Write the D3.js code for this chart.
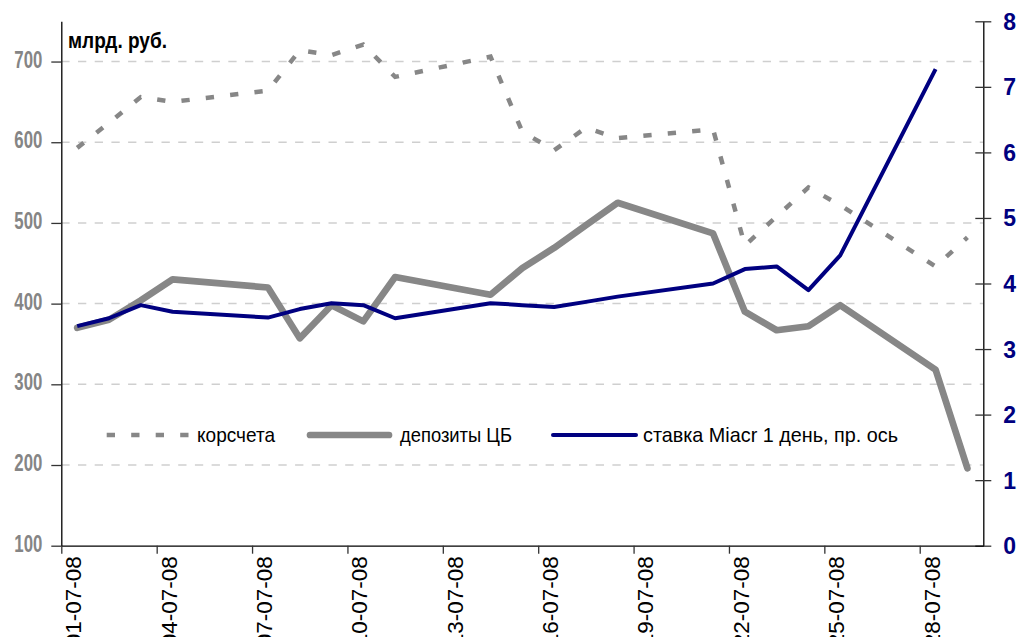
<!DOCTYPE html>
<html lang="ru">
<head>
  <meta charset="UTF-8">
  <title>Корсчета, депозиты ЦБ, Miacr</title>
  <script src="https://cdn.jsdelivr.net/npm/d3@7"></script>
  <style>
    body { margin: 0; background: #fff; }
    text { font-family: "Liberation Sans", Arial, sans-serif; }
  </style>
</head>
<body>
  <div id="chart"></div>
  <script>
    // business days of July 2008
    const dates = ["01-07-08","02-07-08","03-07-08","04-07-08","07-07-08","08-07-08","09-07-08",
                   "10-07-08","11-07-08","14-07-08","15-07-08","16-07-08","17-07-08","18-07-08",
                   "21-07-08","22-07-08","23-07-08","24-07-08","25-07-08","28-07-08","29-07-08"];
    // млрд. руб.
    const korscheta = [593, 624, 656, 650, 664, 714, 708, 721, 681, 706, 613, 590, 618, 605,
                       616, 472, 508, 544, 522, 446, 482];
    const depozity  = [370, 380, 404, 430, 420, 357, 398, 378, 433, 411, 444, 469, 497, 525,
                       487, 390, 367, 372, 398, 318, 196];
    // %, right axis
    const miacr     = [3.35, 3.47, 3.67, 3.57, 3.48, 3.61, 3.70, 3.67, 3.47, 3.70, 3.67, 3.64, 3.72, 3.80,
                       4.00, 4.22, 4.26, 3.90, 4.43, 7.27, null];
    const leftTicks  = [100, 200, 300, 400, 500, 600, 700];
    const rightTicks = [0, 1, 2, 3, 4, 5, 6, 7, 8];
    const legendNames = ["корсчета", "депозиты ЦБ", "ставка Miacr 1 день, пр. ось"];

    const w = 1017, h = 637;
    const left = 61.3, right = 983.3, bottom = 545.7;
    const grey = "#878787", navy = "#000080";

    const parse = d3.timeParse("%d-%m-%y");
    const fmt = d3.timeFormat("%d-%m-%y");
    const days = dates.map(parse);
    const mid = d => d3.timeHour.offset(d, 12);

    const x = d3.scaleTime()
      .domain([new Date(2008, 6, 1), new Date(2008, 6, 30)])
      .range([left, right]);
    const yL = d3.scaleLinear().domain([100, 750]).range([bottom, 21.2]);
    const yR = d3.scaleLinear().domain([0, 8]).range([bottom, 21.3]);

    const svg = d3.select("#chart").append("svg")
      .attr("width", w).attr("height", h);

    // gridlines
    svg.append("g").selectAll("line")
      .data(leftTicks.filter(v => v > 100))
      .enter().append("line")
      .attr("x1", left).attr("x2", right)
      .attr("y1", d => yL(d)).attr("y2", d => yL(d))
      .attr("stroke", "#cfcfcf").attr("stroke-width", 1.5)
      .attr("stroke-dasharray", "8.3,8.4");

    // left axis
    const gL = svg.append("g")
      .attr("transform", "translate(" + left + ",0)")
      .call(d3.axisLeft(yL).tickValues(leftTicks).tickSize(10).tickSizeOuter(0).tickPadding(9));
    gL.select(".domain").attr("stroke", "#000").attr("stroke-width", 1.3);
    gL.selectAll(".tick line").attr("stroke", "#333").attr("stroke-width", 1.3);
    gL.selectAll(".tick text")
      .attr("fill", "#858585").attr("font-size", 24).attr("font-weight", "bold")
      .attr("dy", "5.5").attr("y", 0)
      .attr("textLength", 28).attr("lengthAdjust", "spacingAndGlyphs");

    // right axis
    const gR = svg.append("g")
      .attr("transform", "translate(" + right + ",0)")
      .call(d3.axisRight(yR).tickValues(rightTicks).tickSize(8).tickSizeOuter(0).tickPadding(12));
    gR.select(".domain").attr("stroke", "#000").attr("stroke-width", 1.3);
    gR.selectAll(".tick line").attr("x1", -8).attr("stroke", "#333").attr("stroke-width", 1.3);
    gR.selectAll(".tick text")
      .attr("fill", navy).attr("font-size", 23).attr("font-weight", "bold")
      .attr("dy", "8");

    // bottom axis
    const gB = svg.append("g")
      .attr("transform", "translate(0," + bottom + ")")
      .call(d3.axisBottom(x).ticks(d3.timeDay.every(3)).tickSize(8).tickSizeOuter(0)
        .tickFormat(fmt));
    gB.select(".domain").attr("stroke", "#000").attr("stroke-width", 1.3);
    gB.selectAll(".tick line").attr("stroke", "#333").attr("stroke-width", 1.3);
    gB.selectAll(".tick")
      .filter(d => d > new Date(2008, 6, 29))
      .remove();
    gB.selectAll(".tick text")
      .attr("fill", "#000").attr("font-size", 22.5)
      .attr("text-anchor", "end")
      .attr("transform", "translate(11.5,10.5) rotate(-90)")
      .attr("x", 0).attr("y", 0).attr("dy", "0.35em");

    // unit title
    svg.append("text")
      .attr("x", 68).attr("y", 48)
      .attr("font-size", 22).attr("font-weight", "bold")
      .attr("textLength", 99).attr("lengthAdjust", "spacingAndGlyphs")
      .text("млрд. руб.");

    // series
    const lineL = d3.line()
      .x((d, i) => x(mid(days[i])))
      .y(d => yL(d));
    const lineR = d3.line()
      .defined(d => d != null)
      .x((d, i) => x(mid(days[i])))
      .y(d => yR(d));

    svg.append("path")
      .attr("d", lineL(korscheta))
      .attr("fill", "none").attr("stroke", grey).attr("stroke-width", 4.5)
      .attr("stroke-dasharray", "8.3,16.2");
    svg.append("path")
      .attr("d", lineL(depozity))
      .attr("fill", "none").attr("stroke", grey).attr("stroke-width", 6.7)
      .attr("stroke-linejoin", "round").attr("stroke-linecap", "round");
    svg.append("path")
      .attr("d", lineR(miacr))
      .attr("fill", "none").attr("stroke", navy).attr("stroke-width", 4)
      .attr("stroke-linejoin", "round");

    // legend
    const ly = 435, ty = 442;
    const lg = svg.append("g");
    lg.append("line").attr("x1", 106.7).attr("x2", 190).attr("y1", ly).attr("y2", ly)
      .attr("stroke", grey).attr("stroke-width", 4.5).attr("stroke-dasharray", "8.3,16.2");
    lg.append("line").attr("x1", 310).attr("x2", 389).attr("y1", ly).attr("y2", ly)
      .attr("stroke", grey).attr("stroke-width", 6.7).attr("stroke-linecap", "round");
    lg.append("line").attr("x1", 553).attr("x2", 636).attr("y1", ly).attr("y2", ly)
      .attr("stroke", navy).attr("stroke-width", 4).attr("stroke-linecap", "round");

    const legendPos = [{x: 197, len: 78}, {x: 400, len: 112}, {x: 643, len: 255}];
    lg.selectAll("text.leg")
      .data(legendNames)
      .enter().append("text")
      .attr("class", "leg")
      .attr("x", (d, i) => legendPos[i].x).attr("y", ty)
      .attr("font-size", 21).attr("fill", "#000")
      .attr("textLength", (d, i) => legendPos[i].len)
      .attr("lengthAdjust", "spacingAndGlyphs")
      .text(d => d);
  </script>
</body>
</html>
